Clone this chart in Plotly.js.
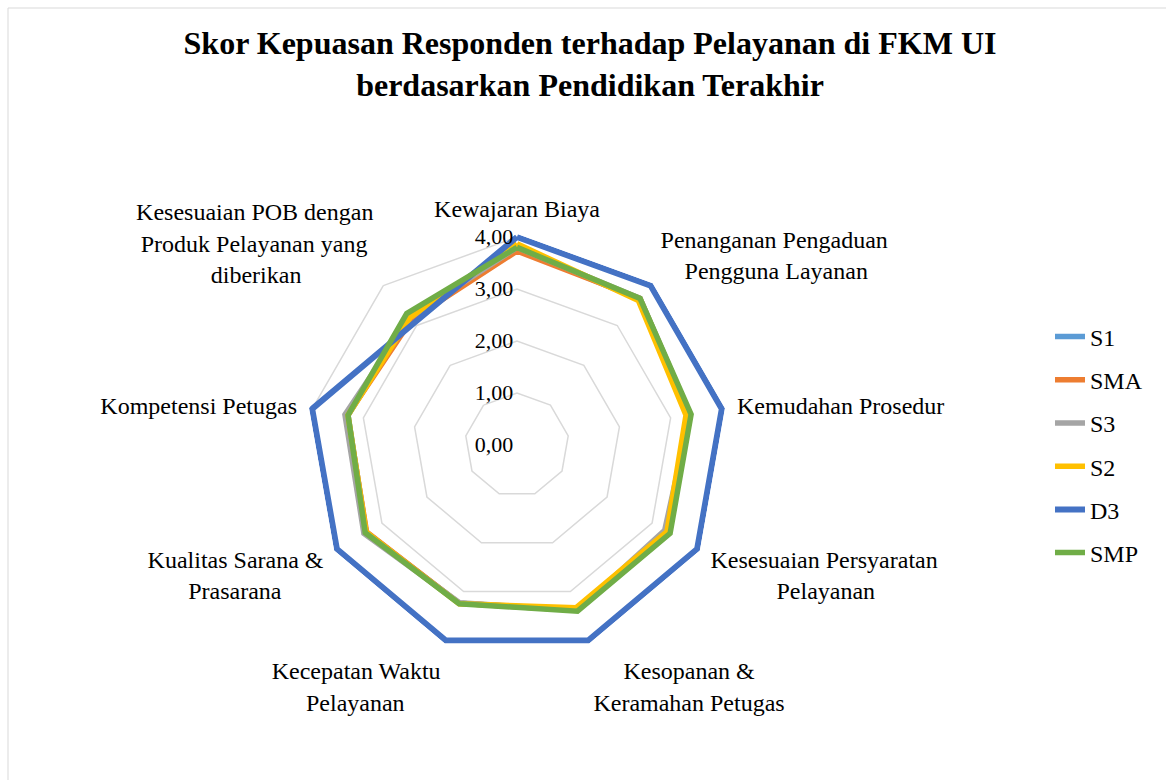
<!DOCTYPE html>
<html>
<head>
<meta charset="utf-8">
<script src="https://cdn.plot.ly/plotly-3.0.1.min.js"></script>
<style>html,body{margin:0;padding:0;background:#fff;}#chart{width:1166px;height:780px;}</style>
</head>
<body>
<div id="chart"></div>
<script>
// Categories (clockwise from top)
var categories = [
  "Kewajaran Biaya",
  "Penanganan Pengaduan Pengguna Layanan",
  "Kemudahan Prosedur",
  "Kesesuaian Persyaratan Pelayanan",
  "Kesopanan & Keramahan Petugas",
  "Kecepatan Waktu Pelayanan",
  "Kualitas Sarana & Prasarana",
  "Kompetensi Petugas",
  "Kesesuaian POB dengan Produk Pelayanan yang diberikan"
];
// Category tick labels, one entry per line
var tickLines = [
  ["Kewajaran Biaya"],
  ["Penanganan Pengaduan", "Pengguna Layanan"],
  ["Kemudahan Prosedur"],
  ["Kesesuaian Persyaratan", "Pelayanan"],
  ["Kesopanan &", "Keramahan Petugas"],
  ["Kecepatan Waktu", "Pelayanan"],
  ["Kualitas Sarana &", "Prasarana"],
  ["Kompetensi Petugas"],
  ["Kesesuaian POB dengan", "Produk Pelayanan yang", "diberikan"]
];
var seriesNames = ["S1", "SMA", "S3", "S2", "D3", "SMP"];
var S1  = [3.78, 3.66, 3.37, 3.36, 3.38, 3.24, 3.35, 3.30, 3.22];
var SMA = [3.73, 3.68, 3.38, 3.36, 3.38, 3.24, 3.34, 3.31, 3.15];
var S3  = [3.80, 3.68, 3.38, 3.28, 3.38, 3.23, 3.40, 3.36, 3.20];
var S2  = [3.87, 3.63, 3.30, 3.33, 3.33, 3.25, 3.35, 3.30, 3.20];
var D3  = [4.00, 4.00, 4.00, 4.00, 4.00, 4.00, 4.00, 4.00, 3.07];
var SMP = [3.80, 3.68, 3.40, 3.40, 3.40, 3.25, 3.37, 3.30, 3.30];
var radialTicks = [0, 1, 2, 3, 4];

var seriesValues = [S1, SMA, S3, S2, D3, SMP];
var colors = ["#5B9BD5", "#ED7D31", "#A5A5A5", "#FFC000", "#4472C4", "#70AD47"];
var widths = [5.5, 5.5, 5.5, 5.5, 6, 5.5];

var serifList = "Liberation Serif, Times New Roman, serif";
var labelSize = 24;

// Center multi-line labels (Excel style) by padding shorter lines with no-break spaces
var ctx = document.createElement("canvas").getContext("2d");
ctx.font = labelSize + "px 'Liberation Serif'";
var nb = "\u00a0";
var nbW = ctx.measureText(nb).width || labelSize * 0.25;
function centeredLabel(lines, idx) {
  if (lines.length === 1) return lines[0];
  var ang = (90 - 360 * idx / categories.length) * Math.PI / 180;
  var c = Math.cos(ang);
  var ws = lines.map(function (l) { return ctx.measureText(l).width; });
  var maxW = Math.max.apply(null, ws);
  return lines.map(function (l, k) {
    if (Math.abs(c) < 0.05) return l;
    var n = Math.round((maxW - ws[k]) / 2 / nbW);
    var pad = new Array(n + 1).join(nb);
    return c > 0 ? pad + l : l + pad;
  }).join("<br>");
}
var tickLabels = tickLines.map(centeredLabel);

var traces = seriesNames.map(function (name, i) {
  var r = seriesValues[i].concat([seriesValues[i][0]]);
  var th = categories.concat([categories[0]]);
  return {
    type: "scatterpolar",
    mode: "lines",
    name: name,
    legendgroup: name,
    r: r,
    theta: th,
    cliponaxis: false,
    line: {color: colors[i], width: widths[i], shape: "linear"},
    hoverinfo: "name+r+theta"
  };
});

var cx = 517, cy = 445, unit = 52, rMax = 4.06, W = 1166, H = 780;
var R = unit * rMax;

var layout = {
  width: W, height: H,
  margin: {l: 0, r: 0, t: 0, b: 0},
  paper_bgcolor: "#ffffff",
  separators: ",.",
  font: {family: serifList, color: "#000000", size: 22},
  showlegend: true,
  legend: {
    x: 1050 / W, xanchor: "left",
    y: (H - 445) / H, yanchor: "middle",
    font: {family: serifList, size: 24, color: "#000000"},
    traceorder: "grouped",
    tracegroupgap: 9,
    bgcolor: "rgba(0,0,0,0)"
  },
  title: {
    text: "<b>Skor Kepuasan Responden terhadap Pelayanan di FKM UI<br>berdasarkan Pendidikan Terakhir</b>",
    font: {family: serifList, size: 32, color: "#000000"},
    x: 590 / W, xanchor: "center", xref: "paper",
    y: 1 - 54 / H, yanchor: "top", yref: "paper"
  },
  polar: {
    domain: {
      x: [(cx - R) / W, (cx + R) / W],
      y: [(H - cy - R) / H, (H - cy + R) / H]
    },
    bgcolor: "#ffffff",
    gridshape: "linear",
    radialaxis: {
      range: [0, rMax],
      tickvals: radialTicks,
      tickformat: ".2f",
      ticksuffix: "\u00a0\u00a0\u00a0\u00a0",
      angle: 90,
      tickangle: 90,
      side: "counterclockwise",
      showline: false,
      ticks: "",
      showgrid: true,
      gridcolor: "#d9d9d9",
      gridwidth: 1.5,
      tickfont: {family: serifList, size: 22, color: "#000000"}
    },
    angularaxis: {
      type: "category",
      categoryarray: categories,
      tickmode: "array",
      tickvals: categories,
      ticktext: tickLabels,
      rotation: 90,
      direction: "clockwise",
      showgrid: false,
      showline: false,
      ticks: "outside",
      ticklen: 7,
      tickcolor: "rgba(0,0,0,0)",
      tickfont: {family: serifList, size: labelSize, color: "#000000"}
    }
  },
  shapes: [
    {type: "line", xref: "paper", yref: "paper", x0: 8 / W, x1: 8 / W, y0: 0, y1: 1 - 8 / H, line: {color: "#d9d9d9", width: 1}},
    {type: "line", xref: "paper", yref: "paper", x0: 8 / W, x1: 1, y0: 1 - 8 / H, y1: 1 - 8 / H, line: {color: "#d9d9d9", width: 1}}
  ]
};

Plotly.newPlot("chart", traces, layout, {displayModeBar: false, staticPlot: true});
</script>
</body>
</html>
